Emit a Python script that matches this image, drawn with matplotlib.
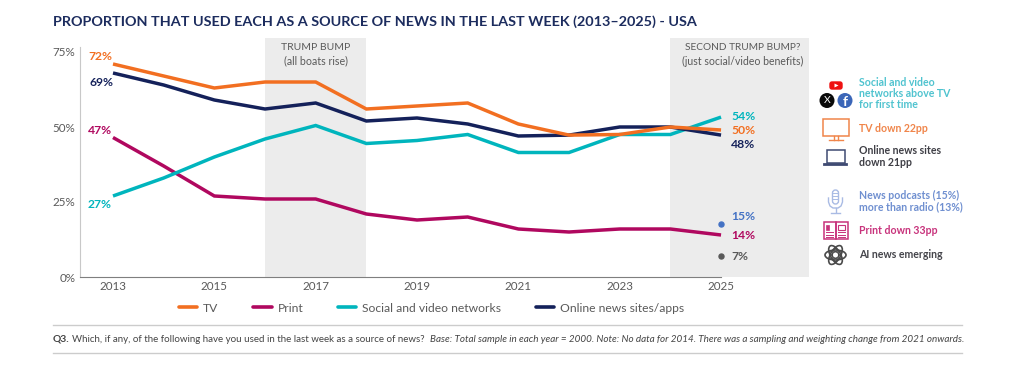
import matplotlib
matplotlib.use("Agg")
import matplotlib.pyplot as plt
from matplotlib.patches import Rectangle, FancyBboxPatch, Circle, Ellipse, Polygon
from matplotlib.lines import Line2D

plt.rcParams['font.family'] = ['Lato', 'DejaVu Sans']

years = [2013, 2014, 2015, 2016, 2017, 2018, 2019, 2020, 2021, 2022, 2023, 2024, 2025]
tv = [71, 67, 63, 65, 65, 56, 57, 58, 51, 47.3, 47.5, 50, 49]
print_news = [46.5, 37, 27, 26, 26, 21, 19, 20, 16, 15, 16, 16, 14]
social = [27, 33, 40, 46, 50.5, 44.5, 45.5, 47.5, 41.5, 41.5, 47.5, 47.5, 53.3]
online = [68, 64, 59, 56, 58, 52, 53, 51, 47, 47.3, 50, 50, 47.3]
podcast_year, podcast_value = 2025, 17.7
ai_year, ai_value = 2025, 7
x_ticks = [2013, 2015, 2017, 2019, 2021, 2023, 2025]
y_ticks = [0, 25, 50, 75]
bands = [(2016, 2018), (2024, 2026.74)]

ORANGE, MAGENTA, TEAL, NAVY = '#f26f21', '#b0085f', '#00b5bd', '#14215a'
GREY = '#5a5a5a'

W, H = 1024, 370
fig = plt.figure(figsize=(W / 100, H / 100), dpi=100, facecolor='white')
L, R, T, B = 79.5, 809, 38, 277
ax = fig.add_axes([L / W, 1 - B / H, (R - L) / W, (B - T) / H])
ax.set_xlim(2013 - (113 - L) / 50.67, 2013 + (R - 113) / 50.67)
ax.set_ylim(0, (B - T) / 3.0)
for a, b in bands:
    ax.axvspan(a, b, color='#ececec', lw=0, zorder=0)

ax.plot(years, print_news, color=MAGENTA, lw=2.5, solid_joinstyle='miter', solid_capstyle='butt', zorder=3)
ax.plot(years, social, color=TEAL, lw=2.5, solid_joinstyle='miter', solid_capstyle='butt', zorder=3)
ax.plot(years, online, color=NAVY, lw=2.5, solid_joinstyle='miter', solid_capstyle='butt', zorder=4)
ax.plot(years, tv, color=ORANGE, lw=2.5, solid_joinstyle='miter', solid_capstyle='butt', zorder=5)
ax.plot([podcast_year], [podcast_value], 'o', color='#4472c4', ms=3.6, zorder=5)
ax.plot([ai_year], [ai_value], 'o', color='#595959', ms=3.6, zorder=5)

for s in ('top', 'right'):
    ax.spines[s].set_visible(False)
ax.spines['left'].set_color('#c8c8c8')
ax.spines['left'].set_bounds(0, 76.7)
ax.spines['bottom'].set_color('#7f7f7f')
ax.spines['bottom'].set_bounds(ax.get_xlim()[0], 2025)
ax.set_xticks(x_ticks)
ax.set_xticklabels([str(v) for v in x_ticks])
ax.set_yticks(y_ticks)
ax.set_yticklabels([f'{v}%' for v in y_ticks])
ax.tick_params(length=0, labelsize=8.4, labelcolor=GREY, pad=3)
ax.patch.set_alpha(0)

handles = [Line2D([], [], color=c, lw=2.6, solid_capstyle='round') for c in (ORANGE, MAGENTA, TEAL, NAVY)]
leg = fig.legend(handles, ['TV', 'Print', 'Social and video networks', 'Online news sites/apps'],
                 ncols=4, loc='center', bbox_to_anchor=(431.5 / W, 1 - 308 / H), frameon=False,
                 fontsize=8.7, handlelength=1.55, handletextpad=0.5, columnspacing=2.83,
                 labelcolor=GREY)

ov = fig.add_axes([0, 0, 1, 1], zorder=10)
ov.set_xlim(0, W)
ov.set_ylim(H, 0)
ov.axis('off')

def t(x, y, s, color=GREY, size=8, weight='normal', ha='left', style='normal'):
    return ov.text(x, y, s, color=color, fontsize=size, fontweight=weight, ha=ha, va='center', fontstyle=style)

t(53, 21.5, 'PROPORTION THAT USED EACH AS A SOURCE OF NEWS IN THE LAST WEEK (2013\u20132025) - USA',
  color='#1c2c5e', size=10.38, weight='bold')
t(316, 48, 'TRUMP BUMP', size=7.5, ha='center')
t(316, 61, '(all boats rise)', size=7.7, ha='center')
t(742.5, 48, 'SECOND TRUMP BUMP?', size=7.3, ha='center')
t(743, 61, '(just social/video benefits)', size=7.6, ha='center')

for x, y, s, c in [(88, 57, '72%', ORANGE), (89, 83, '69%', NAVY), (88, 131, '47%', MAGENTA), (88, 205, '27%', TEAL),
                   (731, 117, '54%', TEAL), (731, 131, '50%', ORANGE), (731, 145, '48%', NAVY),
                   (731, 217, '15%', '#4472c4'), (731, 235.5, '14%', MAGENTA), (731, 256, '7%', '#595959')]:
    t(x, y, s, color=c, size=8.7, weight='bold')

for x, y, s, c in [(859, 82, 'Social and video', '#4fc3cf'), (859, 93.5, 'networks above TV', '#4fc3cf'),
                   (859, 105, 'for first time', '#4fc3cf'), (859, 128, 'TV down 22pp', '#f0854a'),
                   (859, 151, 'Online news sites', '#3f3f46'), (859, 163, 'down 21pp', '#3f3f46'),
                   (859, 195, 'News podcasts (15%)', '#6f8fd0'), (859, 207, 'more than radio (13%)', '#6f8fd0'),
                   (859, 231, 'Print down 33pp', '#c8337c'), (859, 254, 'AI news emerging', '#44444a')]:
    t(x, y, s, color=c, size=7.6, weight='bold')

# rules and footnote
for y in (324.5, 352.5):
    ov.plot([53, 962], [y, y], color='#cccccc', lw=1)
t(53, 339, 'Q3.', color='#444444', size=7.4, weight='bold')
t(72, 339, 'Which, if any, of the following have you used in the last week as a source of news?', color='#444444', size=7.0)
t(429.5, 339, 'Base: Total sample in each year = 2000. Note: No data for 2014. There was a sampling and weighting change from 2021 onwards.',
  color='#444444', size=7.08, style='italic')

# icons
ov.add_patch(FancyBboxPatch((830, 82), 12, 7, boxstyle='round,pad=0,rounding_size=2', fc='#ee1111', ec='#ee1111', lw=1))
ov.add_patch(Polygon([(834.5, 83.5), (834.5, 87.5), (838.5, 85.5)], fc='white'))
ov.add_patch(Circle((827, 100.5), 7.5, fc='#0a0a0a'))
ov.text(827, 100.5, 'X', color='white', fontsize=7.5, ha='center', va='center')
ov.add_patch(Circle((845, 100.5), 7.5, fc='#3b66b8'))
ov.text(845.5, 101.5, 'f', color='white', fontsize=10, fontweight='bold', ha='center', va='center')

ov.add_patch(Rectangle((822.5, 119), 26, 17, fc='none', ec='#f0854a', lw=1.1))
ov.plot([834, 834], [136, 140], color='#f0854a', lw=1)
ov.plot([838, 838], [136, 140], color='#f0854a', lw=1)
ov.plot([829, 843], [140, 140], color='#f0854a', lw=1)

ov.add_patch(Rectangle((826.5, 150), 18, 13, fc='none', ec='#3e4a72', lw=1.1))
ov.plot([824, 846], [163.5, 163.5], color='#3e4a72', lw=2)

mic = '#a9bbe4'
ov.add_patch(FancyBboxPatch((832.5, 190), 6, 14, boxstyle='round,pad=0,rounding_size=3', fc='none', ec=mic, lw=1))
for y in (193, 196, 199):
    ov.plot([833, 838], [y, y], color=mic, lw=0.7)
ov.plot([828.5, 828.5, 830, 833, 838, 841, 842.5, 842.5], [198, 202, 206, 208, 208, 206, 202, 198], color=mic, lw=1)
ov.plot([835.5, 835.5], [208, 212], color=mic, lw=1)
ov.plot([831, 840], [212.5, 212.5], color=mic, lw=1)

pk = '#c8337c'
ov.add_patch(Rectangle((823.5, 222), 12, 17, fc='none', ec=pk, lw=1.1))
ov.add_patch(Rectangle((835.5, 222), 12, 17, fc='none', ec=pk, lw=1.1))
ov.add_patch(Rectangle((838, 224.5), 7, 5, fc='none', ec=pk, lw=0.8))
ov.add_patch(Rectangle((826, 224.5), 3, 5, fc=pk, ec=pk, lw=0.5))
for y in (232, 234.5, 237):
    ov.plot([826, 833], [y, y], color=pk, lw=0.7)
    ov.plot([838, 845], [y, y], color=pk, lw=0.7)

for ang in (0, 60, 120):
    ov.add_patch(Ellipse((835.5, 255), 21, 10, angle=ang, fc='none', ec='#4a4a4a', lw=1.2))
    ov.add_patch(Ellipse((835.5, 255), 13, 6, angle=ang + 30, fc='none', ec='#4a4a4a', lw=0.8))

fig.savefig('out.png', dpi=100, facecolor='white')
